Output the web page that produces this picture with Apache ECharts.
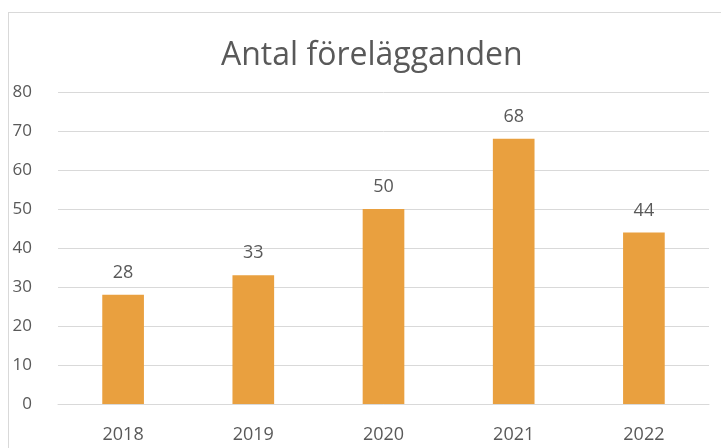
<!DOCTYPE html>
<html>
<head>
<meta charset="utf-8">
<script src="https://cdn.jsdelivr.net/npm/echarts@6/dist/echarts.min.js"></script>
<style>
    html, body { margin: 0; padding: 0; background: #fff; }
    #frame { position: absolute; left: 8px; top: 12px; width: 730px; height: 450px;
             border-left: 1px solid #d9d9d9; border-top: 1px solid #d9d9d9; }
    #chart { position: absolute; left: 0; top: 0; width: 721px; height: 448px; }
</style>
</head>
<body>
<div id="frame"></div>
<div id="chart"></div>
<script>
// data
var years = ['2018', '2019', '2020', '2021', '2022'];
var counts = [28, 33, 50, 68, 44];
var yTicks = [0, 80, 10]; // min, max, interval

var fontName = "'Open Sans', 'Noto Sans', sans-serif";
var textColor = '#595959';

var echart = echarts.init(document.getElementById('chart'));
echart.setOption({
    animation: false,
    title: {
        text: 'Antal förelägganden',
        left: 216,
        top: 35,
        textStyle: { fontFamily: fontName, fontSize: 32, fontWeight: 'normal', color: textColor }
    },
    grid: { left: 58, right: 12, top: 92, bottom: 44 },
    xAxis: {
        type: 'category',
        data: years,
        axisLine: { show: true, lineStyle: { color: '#d9d9d9' } },
        axisTick: { show: false },
        axisLabel: { fontFamily: fontName, fontSize: 18, color: textColor, margin: 22 }
    },
    yAxis: {
        type: 'value',
        min: yTicks[0],
        max: yTicks[1],
        interval: yTicks[2],
        axisLine: { show: false },
        axisTick: { show: false },
        splitLine: { lineStyle: { color: '#d9d9d9' } },
        axisLabel: { fontFamily: fontName, fontSize: 17, color: textColor, margin: 26 }
    },
    series: [{
        type: 'bar',
        data: counts,
        barWidth: '32%',
        itemStyle: { color: '#E9A03F' },
        label: {
            show: true,
            position: 'top',
            distance: 13,
            fontFamily: fontName,
            fontSize: 18,
            color: textColor
        }
    }]
});
</script>
</body>
</html>
